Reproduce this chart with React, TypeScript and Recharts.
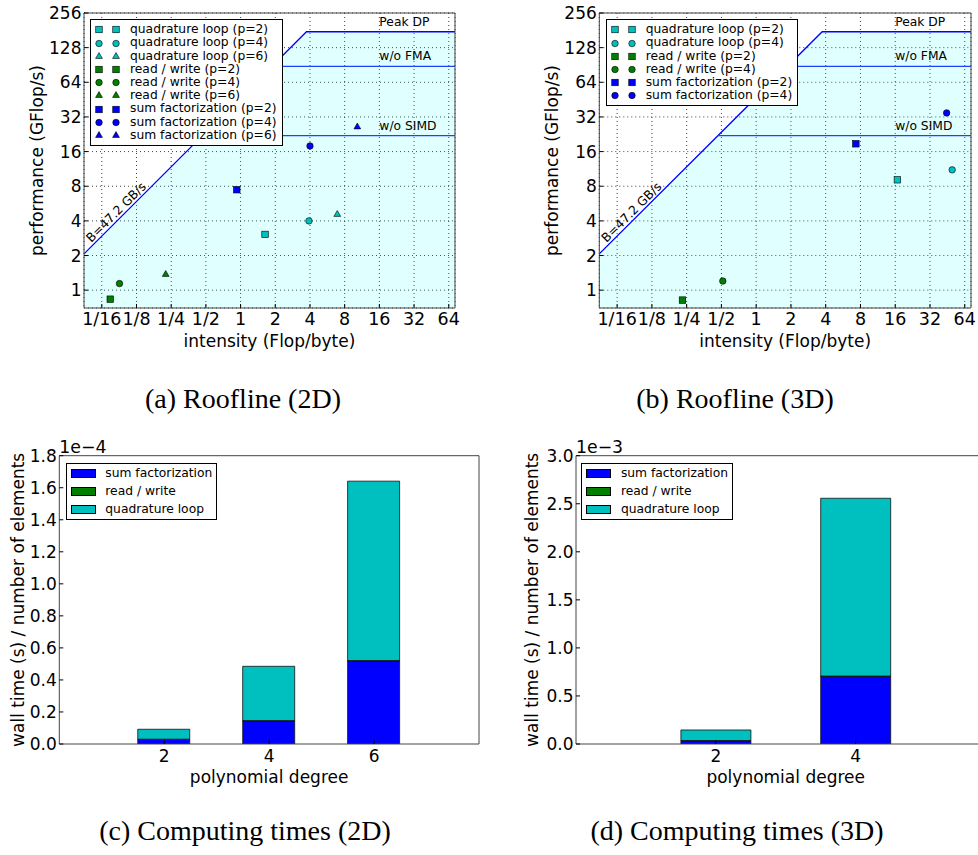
import React from "react";
import {
  Area,
  Bar,
  BarChart,
  CartesianGrid,
  ComposedChart,
  Legend,
  Line,
  ReferenceDot,
  Scatter,
  XAxis,
  YAxis,
} from "recharts";

// machine limits used by both roofline panels
const bandwidth = 47.2; // GB/s
const ceilingNames = ["Peak DP", "w/o FMA", "w/o SIMD"];
const ceilingValues = [176, 88, 22];

const intensityTicks = [1 / 16, 1 / 8, 1 / 4, 1 / 2, 1, 2, 4, 8, 16, 32, 64];
const intensityLabels = ["1/16", "1/8", "1/4", "1/2", "1", "2", "4", "8", "16", "32", "64"];
const perfTicks = [1, 2, 4, 8, 16, 32, 64, 128, 256];
const intensityDomain = [0.0438, 72.5];
const perfDomain = [0.7, 256];

const kernels = ["quadrature loop", "read / write", "sum factorization"];
const kernelColors = ["#00bfbf", "#008000", "#0000ff"];
const degreeShapes: Record<number, string> = { 2: "square", 4: "circle", 6: "triangle" };

// roofline 2D (rows follow kernels, columns follow degrees)
const degrees2D = [2, 4, 6];
const intensity2D = [
  [1.63, 3.92, 6.9],
  [0.074, 0.089, 0.224],
  [0.927, 4.0, 10.3],
];
const performance2D = [
  [3.05, 4.0, 4.55],
  [0.835, 1.14, 1.37],
  [7.46, 17.9, 26.2],
];

// roofline 3D
const degrees3D = [2, 4];
const intensity3D = [
  [16.7, 49.8],
  [0.23, 0.514],
  [7.3, 44.6],
];
const performance3D = [
  [9.1, 11.1],
  [0.82, 1.2],
  [18.7, 34.7],
];

// wall time per element (s)
const sumFact2D = [0.028e-4, 0.144e-4, 0.519e-4];
const readWrite2D = [0.002e-4, 0.002e-4, 0.002e-4];
const quadrature2D = [0.062e-4, 0.339e-4, 1.12e-4];
const timeTicks2D = [0, 0.2e-4, 0.4e-4, 0.6e-4, 0.8e-4, 1.0e-4, 1.2e-4, 1.4e-4, 1.6e-4, 1.8e-4];

const sumFact3D = [0.034e-3, 0.704e-3];
const readWrite3D = [0.002e-3, 0.003e-3];
const quadrature3D = [0.11e-3, 1.85e-3];
const timeTicks3D = [0, 0.5e-3, 1.0e-3, 1.5e-3, 2.0e-3, 2.5e-3, 3.0e-3];

const barNames = ["sum factorization", "read / write", "quadrature loop"];
const barColors = ["#0000ff", "#008000", "#00bfbf"];

// annotation anchors (data coordinates)
const ceilingLabelIntensity = 16;
const bandwidthLabelAt = { x: 0.083, y: 4.77 };

const FONT = "'DejaVu Sans', sans-serif";
const FRAME = "#444";
const TICK_FS = 17;

function Marker({ cx, cy, shape, color, size = 6.5 }: any) {
  const h = size / 2;
  const common = { fill: color, stroke: "#000", strokeWidth: 0.6 };
  if (shape === "square") return <rect x={cx - h} y={cy - h} width={size} height={size} {...common} />;
  if (shape === "circle") return <circle cx={cx} cy={cy} r={h} {...common} />;
  const r = h * 1.2;
  return (
    <polygon
      points={`${cx},${cy - r} ${cx + r * 0.87},${cy + r * 0.5} ${cx - r * 0.87},${cy + r * 0.5}`}
      {...common}
    />
  );
}

function RoofLegend({ series }: any) {
  return (
    <div
      style={{
        border: "1px solid #000",
        background: "#fff",
        padding: "3px 5px 3px 0",
        fontSize: 12.3,
        lineHeight: "13.2px",
        fontFamily: FONT,
        whiteSpace: "nowrap",
        color: "#000",
      }}
    >
      {series.map((s: any) => (
        <div key={s.name} style={{ display: "flex", alignItems: "center", height: 13.2 }}>
          <svg width={39} height={13} style={{ flex: "none" }}>
            <Marker cx={8} cy={6.5} shape={s.shape} color={s.color} />
            <Marker cx={25} cy={6.5} shape={s.shape} color={s.color} />
          </svg>
          <span>{s.name}</span>
        </div>
      ))}
    </div>
  );
}

function Roofline({ left, width, margin, degrees, intensity, performance, legendAt, yLabelOffset }: any) {
  const [x0, x1] = intensityDomain;
  const peak = ceilingValues[0];
  const roof = [
    { x: x0, y: bandwidth * x0 },
    { x: peak / bandwidth, y: peak },
    { x: x1, y: peak },
  ];
  const ceilings = ceilingValues.slice(1).map((c) => [
    { x: c / bandwidth, y: c },
    { x: x1, y: c },
  ]);
  const series = kernels.flatMap((k, ki) =>
    degrees.map((d: number, di: number) => ({
      name: `${k} (p=${d})`,
      color: kernelColors[ki],
      shape: degreeShapes[d],
      data: [{ x: intensity[ki][di], y: performance[ki][di] }],
    }))
  );
  const fmt = (v: number) => {
    const i = intensityTicks.indexOf(v);
    return i >= 0 ? intensityLabels[i] : String(v);
  };

  return (
    <div style={{ position: "absolute", left, top: 0 }}>
      <ComposedChart width={width} height={360} margin={margin}>
        <CartesianGrid stroke="#000" strokeOpacity={0.75} strokeDasharray="1 3" />
        <XAxis
          type="number"
          dataKey="x"
          scale="log"
          domain={intensityDomain}
          allowDataOverflow
          ticks={intensityTicks}
          interval={0}
          tickFormatter={fmt}
          height={50}
          tickSize={-4}
          tickMargin={9}
          tick={{ fontSize: 17.5, fill: "#000" }}
          axisLine={{ stroke: FRAME }}
          tickLine={{ stroke: "#000" }}
          label={{ value: "intensity (Flop/byte)", position: "insideBottom", offset: 11, style: { fontSize: TICK_FS, fill: "#000" } }}
        />
        <XAxis
          xAxisId="top"
          orientation="top"
          type="number"
          scale="log"
          domain={intensityDomain}
          allowDataOverflow
          ticks={intensityTicks}
          interval={0}
          height={1}
          tick={false}
          tickSize={-4}
          axisLine={{ stroke: FRAME }}
          tickLine={{ stroke: "#000" }}
        />
        <YAxis
          type="number"
          dataKey="y"
          scale="log"
          domain={perfDomain}
          allowDataOverflow
          ticks={perfTicks}
          interval={0}
          width={60}
          tickSize={-4}
          tickMargin={6.5}
          tick={{ fontSize: TICK_FS, fill: "#000" }}
          axisLine={{ stroke: FRAME }}
          tickLine={{ stroke: "#000" }}
          label={{
            value: "performance (GFlop/s)",
            angle: -90,
            position: "insideLeft",
            offset: yLabelOffset,
            style: { textAnchor: "middle", fontSize: TICK_FS, fill: "#000" },
          }}
        />
        <YAxis
          yAxisId="right"
          orientation="right"
          type="number"
          scale="log"
          domain={perfDomain}
          allowDataOverflow
          ticks={perfTicks}
          interval={0}
          width={1}
          tick={false}
          tickSize={-4}
          axisLine={{ stroke: FRAME }}
          tickLine={{ stroke: "#000" }}
        />
        <Area
          data={roof}
          dataKey="y"
          type="linear"
          baseValue={perfDomain[0]}
          fill="#00ffff"
          fillOpacity={0.12}
          stroke="none"
          legendType="none"
          isAnimationActive={false}
        />
        <Line
          data={roof}
          dataKey="y"
          type="linear"
          stroke="#0000ff"
          strokeWidth={1.3}
          dot={false}
          legendType="none"
          isAnimationActive={false}
        />
        {ceilings.map((c, i) => (
          <Line
            key={ceilingNames[i + 1]}
            data={c}
            dataKey="y"
            type="linear"
            stroke="#2040ff"
            strokeWidth={1.3}
            dot={false}
            legendType="none"
            isAnimationActive={false}
          />
        ))}
        {series.map((s) => (
          <Scatter
            key={s.name}
            name={s.name}
            data={s.data}
            fill={s.color}
            isAnimationActive={false}
            shape={(p: any) => <Marker cx={p.cx} cy={p.cy} shape={s.shape} color={s.color} />}
          />
        ))}
        {ceilingNames.map((n, i) => (
          <ReferenceDot
            key={n}
            x={ceilingLabelIntensity}
            y={ceilingValues[i]}
            shape={(p: any) => (
              <text x={p.cx} y={p.cy - 6} fontSize={12.3} fill="#000" style={{ fontFamily: FONT }}>
                {n}
              </text>
            )}
          />
        ))}
        <ReferenceDot
          x={bandwidthLabelAt.x}
          y={bandwidthLabelAt.y}
          shape={(p: any) => (
            <text
              x={p.cx}
              y={p.cy}
              dy="0.35em"
              textAnchor="middle"
              fontSize={12.3}
              fill="#000"
              style={{ fontFamily: FONT }}
              transform={`rotate(-45 ${p.cx} ${p.cy})`}
            >
              {`B=${bandwidth} GB/s`}
            </text>
          )}
        />
        <Legend
          layout="vertical"
          align="center"
          verticalAlign="middle"
          wrapperStyle={{ left: legendAt[0], top: legendAt[1], width: "auto" }}
          content={() => <RoofLegend series={series} />}
        />
      </ComposedChart>
    </div>
  );
}

function BarLegend() {
  return (
    <div
      style={{
        border: "1px solid #000",
        background: "#fff",
        padding: "0.8px 4px 0.8px 0",
        fontSize: 12.3,
        lineHeight: "18px",
        fontFamily: FONT,
        whiteSpace: "nowrap",
        color: "#000",
      }}
    >
      {barNames.map((n, i) => (
        <div key={n} style={{ display: "flex", alignItems: "center", height: 18 }}>
          <div
            style={{
              width: 25,
              height: 9,
              marginLeft: 4,
              marginRight: 9.6,
              background: barColors[i],
              border: "0.8px solid #000",
              boxSizing: "border-box",
              flex: "none",
            }}
          />
          <span>{n}</span>
        </div>
      ))}
    </div>
  );
}

function Times({ left, width, margin, yAxisWidth, yLabelOffset, degrees, sumFact, readWrite, quadrature, ticks, exponent, xDomain, barSize, legendAt }: any) {
  const data = degrees.map((d: number, i: number) => ({
    degree: d,
    sf: sumFact[i],
    rw: readWrite[i],
    quad: quadrature[i],
  }));
  const yMax = ticks[ticks.length - 1];
  const scale = Math.pow(10, exponent);
  const keys = ["sf", "rw", "quad"];

  return (
    <div style={{ position: "absolute", left, top: 425 }}>
      <BarChart width={width} height={375} data={data} margin={margin}>
        <XAxis
          type="number"
          dataKey="degree"
          domain={xDomain}
          allowDataOverflow
          ticks={degrees}
          interval={0}
          height={44}
          tickSize={-4}
          tickMargin={10}
          tick={{ fontSize: TICK_FS, fill: "#000" }}
          axisLine={{ stroke: FRAME }}
          tickLine={{ stroke: "#000" }}
          label={{ value: "polynomial degree", position: "insideBottom", offset: 5, style: { fontSize: TICK_FS, fill: "#000" } }}
        />
        <XAxis
          xAxisId="top"
          orientation="top"
          type="number"
          domain={xDomain}
          allowDataOverflow
          ticks={degrees}
          interval={0}
          height={1}
          tick={false}
          tickSize={-4}
          axisLine={{ stroke: FRAME }}
          tickLine={{ stroke: "#000" }}
        />
        <YAxis
          type="number"
          domain={[0, yMax]}
          allowDataOverflow
          ticks={ticks}
          interval={0}
          width={yAxisWidth}
          tickSize={-4}
          tickMargin={6.5}
          tickFormatter={(v: number) => (v / scale).toFixed(1)}
          tick={{ fontSize: TICK_FS, fill: "#000" }}
          axisLine={{ stroke: FRAME }}
          tickLine={{ stroke: "#000" }}
          label={{
            value: "wall time (s) / number of elements",
            angle: -90,
            position: "insideLeft",
            offset: yLabelOffset,
            style: { textAnchor: "middle", fontSize: TICK_FS, fill: "#000" },
          }}
        />
        <YAxis
          yAxisId="right"
          orientation="right"
          type="number"
          domain={[0, yMax]}
          allowDataOverflow
          ticks={ticks}
          interval={0}
          width={1}
          tick={false}
          tickSize={-4}
          axisLine={{ stroke: FRAME }}
          tickLine={{ stroke: "#000" }}
        />
        {keys.map((k, i) => (
          <Bar
            key={k}
            dataKey={k}
            name={barNames[i]}
            stackId="t"
            fill={barColors[i]}
            stroke="#111"
            strokeWidth={0.8}
            barSize={barSize}
            isAnimationActive={false}
          />
        ))}
        <ReferenceDot
          x={xDomain[0]}
          y={yMax}
          shape={(p: any) => (
            <text x={p.cx} y={p.cy - 3} fontSize={17.3} fill="#000" style={{ fontFamily: FONT }}>
              {`1e\u2212${-exponent}`}
            </text>
          )}
        />
        <Legend
          layout="vertical"
          align="center"
          verticalAlign="middle"
          wrapperStyle={{ left: legendAt[0], top: legendAt[1], width: "auto" }}
          content={() => <BarLegend />}
        />
      </BarChart>
    </div>
  );
}

const captionStyle: React.CSSProperties = {
  position: "absolute",
  width: 400,
  textAlign: "center",
  fontFamily: "'Liberation Serif', 'Times New Roman', serif",
  fontSize: 28,
  lineHeight: "28px",
  color: "#000",
  whiteSpace: "nowrap",
};

export default function App() {
  return (
    <div
      style={{
        position: "absolute",
        left: 0,
        top: 0,
        width: 978,
        height: 855,
        overflow: "hidden",
        background: "#fff",
        fontFamily: FONT,
      }}
    >
      <Roofline
        left={0}
        width={490}
        margin={{ top: 12, right: 34, bottom: 2, left: 24 }}
        yLabelOffset={13}
        degrees={degrees2D}
        intensity={intensity2D}
        performance={performance2D}
        legendAt={[90, 19.3]}
      />
      <Roofline
        left={490}
        width={488}
        margin={{ top: 12, right: 6, bottom: 2, left: 49.3 }}
        yLabelOffset={12.4}
        degrees={degrees3D}
        intensity={intensity3D}
        performance={performance3D}
        legendAt={[115.7, 19.3]}
      />
      <Times
        left={0}
        width={490}
        margin={{ top: 29.7, right: 10, bottom: 12, left: 9.3 }}
        yAxisWidth={50}
        yLabelOffset={9}
        degrees={degrees2D}
        sumFact={sumFact2D}
        readWrite={readWrite2D}
        quadrature={quadrature2D}
        ticks={timeTicks2D}
        exponent={-4}
        xDomain={[0, 8]}
        barSize={52}
        legendAt={[65.7, 37.7]}
      />
      <Times
        left={490}
        width={508}
        margin={{ top: 29.7, right: 1.6, bottom: 12, left: 10 }}
        yAxisWidth={76}
        yLabelOffset={31.7}
        degrees={degrees3D}
        sumFact={sumFact3D}
        readWrite={readWrite3D}
        quadrature={quadrature3D}
        ticks={timeTicks3D}
        exponent={-3}
        xDomain={[0, 6]}
        barSize={70}
        legendAt={[91.3, 37.7]}
      />
      <div style={{ ...captionStyle, left: 43, top: 385 }}>(a) Roofline (2D)</div>
      <div style={{ ...captionStyle, left: 535, top: 385 }}>(b) Roofline (3D)</div>
      <div style={{ ...captionStyle, left: 45, top: 817 }}>(c) Computing times (2D)</div>
      <div style={{ ...captionStyle, left: 537, top: 817 }}>(d) Computing times (3D)</div>
    </div>
  );
}
